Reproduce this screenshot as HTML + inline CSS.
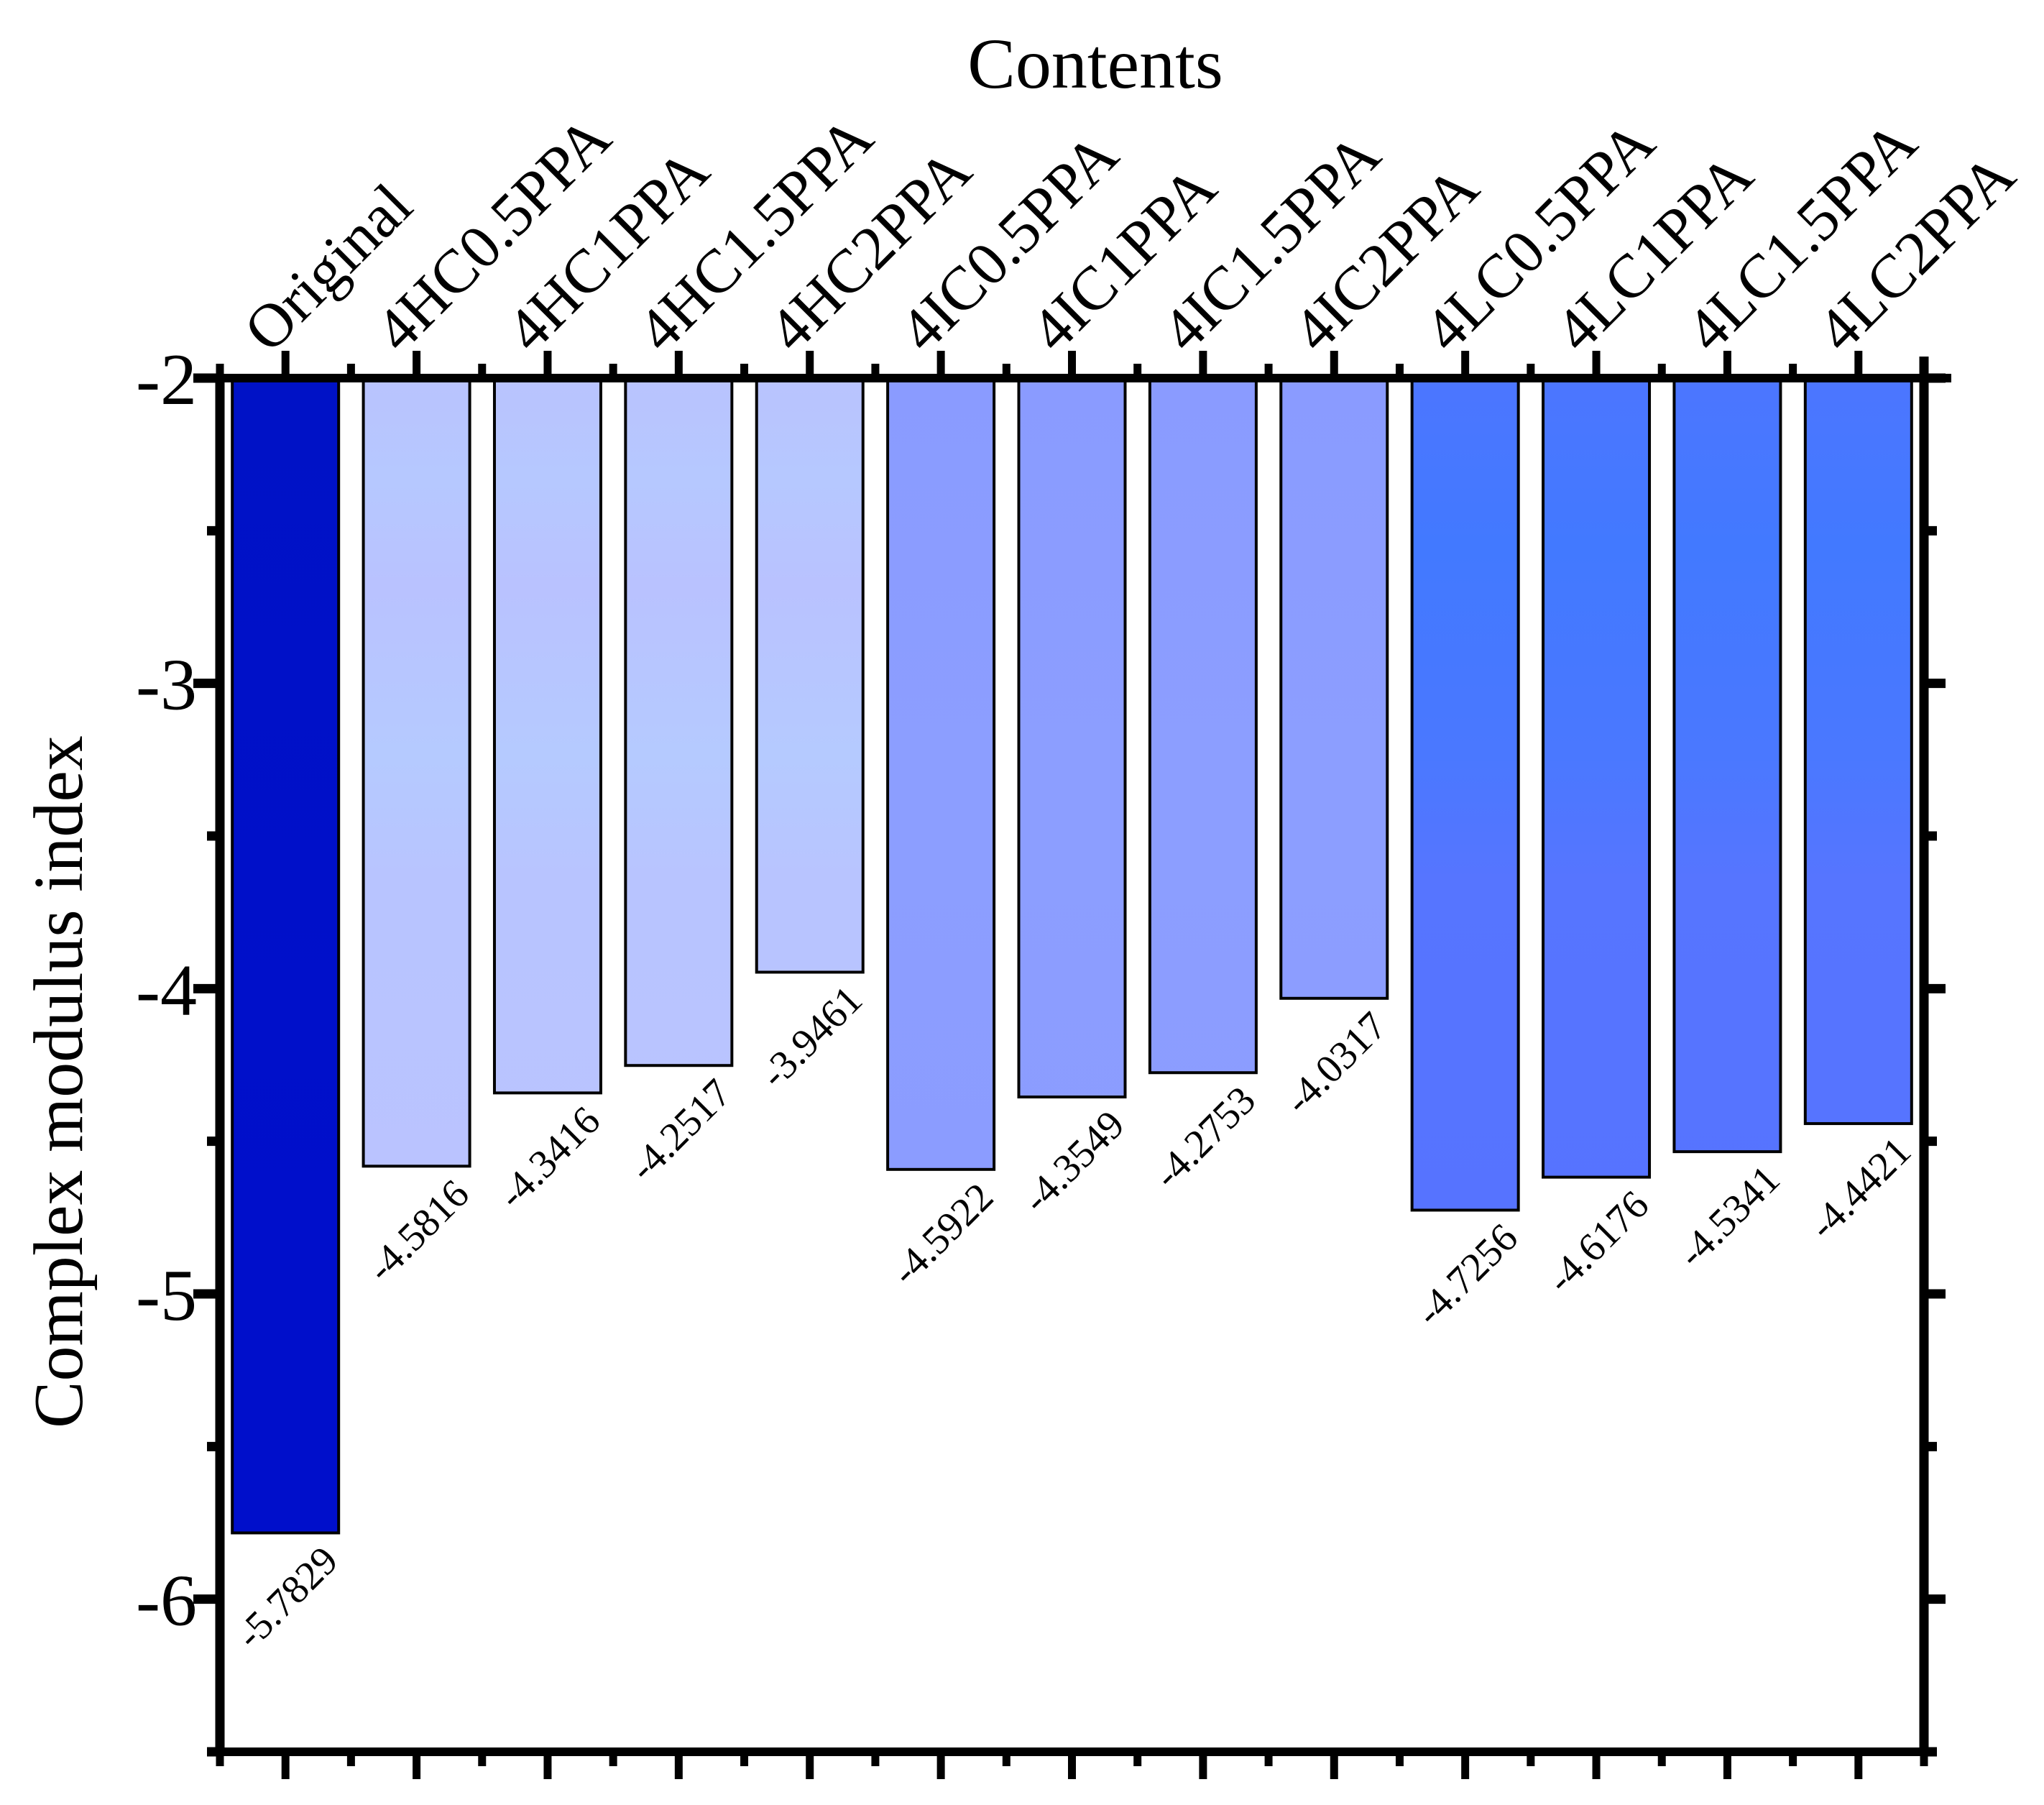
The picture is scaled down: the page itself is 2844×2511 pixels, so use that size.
<!DOCTYPE html>
<html><head><meta charset="utf-8">
<style>
html,body{margin:0;padding:0;background:#fff;}
svg{display:block;font-family:"Liberation Serif",serif;}
</style></head>
<body>
<svg id="chart" width="2844" height="2511" viewBox="0 0 2844 2511" xmlns="http://www.w3.org/2000/svg">
<defs></defs>
<g id="bars"></g>
<g id="axes"></g>
<g id="labels"></g>
</svg>
<script>
const categories = ["Original","4HC0.5PPA","4HC1PPA","4HC1.5PPA","4HC2PPA","4IC0.5PPA","4IC1PPA","4IC1.5PPA","4IC2PPA","4LC0.5PPA","4LC1PPA","4LC1.5PPA","4LC2PPA"];
const values = [-5.7829,-4.5816,-4.3416,-4.2517,-3.9461,-4.5922,-4.3549,-4.2753,-4.0317,-4.7256,-4.6176,-4.5341,-4.4421];
const valueLabels = ["-5.7829","-4.5816","-4.3416","-4.2517","-3.9461","-4.5922","-4.3549","-4.2753","-4.0317","-4.7256","-4.6176","-4.5341","-4.4421"];
const groups = ["O","HC","HC","HC","HC","IC","IC","IC","IC","LC","LC","LC","LC"];
const yTicks = [-2,-3,-4,-5,-6];
const yMinorTicks = [-2.5,-3.5,-4.5,-5.5,-6.5];

const NS = "http://www.w3.org/2000/svg";
const X0 = 306, X1 = 2677, Y0 = 526, Y1 = 2437;
const yMax = -2, yMin = -6.5;
function yScale(v){ return Y0 + (yMax - v) / (yMax - yMin) * (Y1 - Y0); }
const step = (X1 - X0) / categories.length;
function xScale(i){ return X0 + step * (i + 0.5); }
const barW = 148;

function mk(tag, attrs, parent){
  const e = document.createElementNS(NS, tag);
  for (const k in attrs) e.setAttribute(k, attrs[k]);
  parent.appendChild(e);
  return e;
}
const svg = document.getElementById("chart");
const defs = svg.querySelector("defs");
const gradSpec = {
  O: [["#0012c6",0],["#000fcb",1]],
  HC:[["#b9c3fe",0],["#b6c8ff",0.12],["#b9c2ff",0.25],["#b5caff",0.45],["#b8c4ff",0.6],["#bac3ff",1]],
  IC:[["#8a9bff",0],["#8c9eff",0.5],["#8b9cff",1]],
  LC:[["#4c76ff",0],["#4279ff",0.2],["#4a78ff",0.45],["#5675ff",0.6],["#5673ff",1]]
};
for (const g in gradSpec){
  const lg = mk("linearGradient", {id:"grad"+g, x1:0, y1:Y0, x2:0, y2:1690, gradientUnits:"userSpaceOnUse"}, defs);
  gradSpec[g].forEach(s => mk("stop", {offset:s[1], "stop-color":s[0]}, lg));
}

const barsG = document.getElementById("bars");
const labelsG = document.getElementById("labels");
values.forEach((v, i) => {
  const cx = xScale(i);
  const yb = yScale(v);
  const r = mk("rect", {x: cx - barW/2, y: Y0, width: barW, height: yb - Y0, fill: "url(#grad"+groups[i]+")", stroke:"#000", "stroke-width":4}, barsG);
  
  
  const tx = cx + barW/2 + 2, ty = yb + 42;
  const t = mk("text", {x: tx, y: ty, "font-size": 56, "text-anchor":"end", transform:"rotate(-45 "+tx+" "+ty+")"}, labelsG);
  t.textContent = valueLabels[i];
  
  
  const lx = cx - 22, ly = 494;
  const c = mk("text", {x: lx, y: ly, "font-size": 86, transform:"rotate(-45 "+lx+" "+ly+")"}, labelsG);
  c.textContent = categories[i];
  
  
});

const ax = document.getElementById("axes");
const lw = 12;
function line(x1,y1,x2,y2,w,name){
  const l = mk("line", {x1,y1,x2,y2,stroke:"#000","stroke-width":w}, ax);
  
  
}
line(X0-6, Y0, X1+38, Y0, lw, "top-axis");
line(X0-6, Y1, X1+6, Y1, lw, "bottom-axis");
line(X0, Y0, X0, Y1+6, 13, "left-axis");
line(X1, Y0-30, X1, Y1+6, 13, "right-axis");
for (let i = 0; i < categories.length; i++){
  const cx = xScale(i);
  line(cx, Y0, cx, Y0-38, 11, "x-major-tick");
  line(cx, Y1, cx, Y1+38, 11, "x-major-tick");
}
for (let i = 0; i <= categories.length; i++){
  const bx = X0 + step*i;
  if (i < categories.length) { line(bx, Y0, bx, Y0-20, 11, "x-minor-tick"); }
  line(bx, Y1, bx, Y1+20, 11, "x-minor-tick");
}
yTicks.forEach(v => {
  const y = yScale(v);
  line(X0, y, X0-37, y, 13, "y-major-tick");
  line(X1, y, X1+30, y, 13, "y-major-tick");
  const t = mk("text", {x: 274, y: y+36, "font-size": 102, "text-anchor":"end"}, ax);
  t.textContent = String(v);
  
  
});
yMinorTicks.forEach(v => {
  const y = yScale(v);
  line(X0, y, X0-18, y, 13, "y-minor-tick");
  line(X1, y, X1+18, y, 13, "y-minor-tick");
});
const xt = mk("text", {x: 1524, y: 122, "font-size": 100, "text-anchor":"middle"}, ax);
xt.textContent = "Contents";


const yt = mk("text", {x: 0, y: 0, "font-size": 98, "text-anchor":"middle", transform:"translate(114 1505) rotate(-90)"}, ax);
yt.textContent = "Complex modulus index";


</script>
</body></html>
